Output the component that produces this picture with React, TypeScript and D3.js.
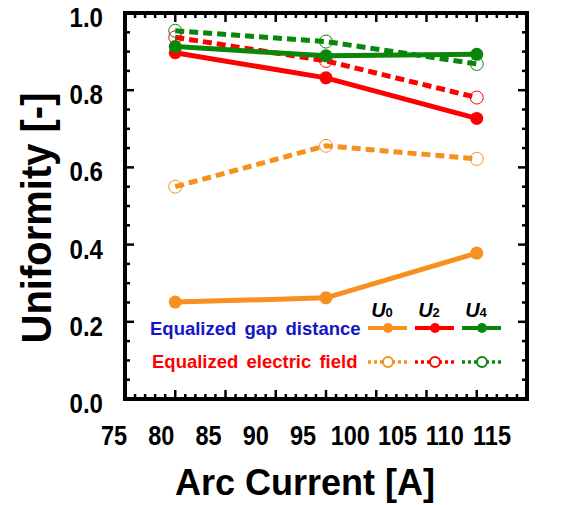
import React from 'react';
import * as d3 from 'd3';

const currents = [80, 95, 110];
const gapU0 = [0.251, 0.262, 0.378];
const gapU2 = [0.897, 0.832, 0.727];
const gapU4 = [0.913, 0.889, 0.893];
const fieldU0 = [0.55, 0.656, 0.622];
const fieldU2 = [0.937, 0.876, 0.781];
const fieldU4 = [0.954, 0.926, 0.868];
const xTicks = [75, 80, 85, 90, 95, 100, 105, 110, 115];
const yTicks = [0, 0.2, 0.4, 0.6, 0.8, 1.0];
const seriesNames = ['0', '2', '4'];
const colors = ['#f7901e', '#ff0000', '#0a870a'];

const W = 563;
const H = 505;
const FONT = 'Liberation Sans, Arial, sans-serif';

const x = d3.scaleLinear().domain([75, 115]).range([125, 527]);
const y = d3.scaleLinear().domain([0, 1]).range([399, 13]);
// tick labels in the original are packed a bit tighter than the ticks
const xLab = d3.scaleLinear().domain([75, 115]).range([114, 492]);

const line = d3
  .line<[number, number]>()
  .x(d => x(d[0]))
  .y(d => y(d[1]));

const solid = [gapU0, gapU2, gapU4];
const dashed = [fieldU0, fieldU2, fieldU4];

export default function App() {
  const minorX = d3.range(75, 115.01, 1);
  const minorY = d3.range(0, 1.001, 0.05);
  const [x0, x1] = x.range();
  const [y0, y1] = y.range();

  return (
    <svg
      width={W}
      height={H}
      style={{ position: 'absolute', left: 0, top: 0, background: '#fff' }}
      fontFamily={FONT}
    >
      {/* dashed: equalized electric field */}
      {dashed.map((vals, i) => (
        <g key={'d' + i}>
          <path
            d={line(currents.map((c, k) => [c, vals[k]]))!}
            fill="none"
            stroke={colors[i]}
            strokeWidth={5}
            strokeDasharray="9,5"
          />
          {currents.map((c, k) => (
            <circle key={k} cx={x(c)} cy={y(vals[k])} r={6.5} fill="none" stroke={colors[i]} strokeWidth={1} />
          ))}
        </g>
      ))}

      {/* solid: equalized gap distance */}
      {solid.map((vals, i) => (
        <g key={'s' + i}>
          <path
            d={line(currents.map((c, k) => [c, vals[k]]))!}
            fill="none"
            stroke={colors[i]}
            strokeWidth={5}
          />
          {currents.map((c, k) => (
            <circle key={k} cx={x(c)} cy={y(vals[k])} r={6.5} fill={colors[i]} />
          ))}
        </g>
      ))}

      {/* frame */}
      <rect x={x0} y={y1} width={x1 - x0} height={y0 - y1} fill="none" stroke="#000" strokeWidth={4} />

      {/* x ticks, bottom and top */}
      {minorX.map(v => {
        const major = Math.abs(v % 5) < 1e-6;
        const len = major ? 9 : 5;
        return (
          <g key={'xt' + v} stroke="#000" strokeWidth={2.5}>
            <line x1={x(v)} x2={x(v)} y1={y0} y2={y0 - len} />
            <line x1={x(v)} x2={x(v)} y1={y1} y2={y1 + len} />
          </g>
        );
      })}
      {/* y ticks, left and right */}
      {minorY.map((v, i) => {
        const major = i % 4 === 0;
        const len = major ? 9 : 5;
        return (
          <g key={'yt' + i} stroke="#000" strokeWidth={2.5}>
            <line x1={x0} x2={x0 + len} y1={y(v)} y2={y(v)} />
            <line x1={x1} x2={x1 - len} y1={y(v)} y2={y(v)} />
          </g>
        );
      })}

      {/* tick labels */}
      {xTicks.map(v => (
        <text
          key={'xl' + v}
          transform={`translate(${xLab(v)},445) scale(0.84,1)`}
          textAnchor="middle"
          fontSize={28}
          fontWeight="bold"
        >
          {v}
        </text>
      ))}
      {yTicks.map(v => (
        <text
          key={'yl' + v}
          transform={`translate(103,${y(v) + 14}) scale(0.86,1)`}
          textAnchor="end"
          fontSize={28}
          fontWeight="bold"
        >
          {v.toFixed(1)}
        </text>
      ))}

      {/* axis titles */}
      <text x={305} y={495} textAnchor="middle" fontSize={36} fontWeight="bold">
        Arc Current [A]
      </text>
      <text
        transform="translate(51,218) rotate(-90) scale(0.93,1)"
        textAnchor="middle"
        fontSize={43}
        fontWeight="bold"
      >
        Uniformity [-]
      </text>

      {/* legend */}
      <text x={150} y={335} fontSize={18.5} fontWeight="bold" fill="#1515c8" wordSpacing={3}>
        Equalized gap distance
      </text>
      <text x={152} y={368} fontSize={18.5} fontWeight="bold" fill="#ff0000" wordSpacing={3}>
        Equalized electric field
      </text>
      {seriesNames.map((n, i) => {
        const cx = 388 + i * 47;
        return (
          <g key={'lg' + i}>
            <text x={cx - 6} y={317} textAnchor="middle" fontSize={20} fontWeight="bold" fontStyle="italic">
              U<tspan fontSize={13} fontStyle="normal">{n}</tspan>
            </text>
            <line x1={cx - 20} x2={cx + 19} y1={328} y2={328} stroke={colors[i]} strokeWidth={4} />
            <circle cx={cx} cy={328} r={5} fill={colors[i]} />
            <line
              x1={cx - 20}
              x2={cx + 19}
              y1={362}
              y2={362}
              stroke={colors[i]}
              strokeWidth={3.5}
              strokeDasharray="3,3"
            />
            <circle cx={cx} cy={362} r={5} fill="#fff" stroke={colors[i]} strokeWidth={2} />
          </g>
        );
      })}
    </svg>
  );
}
